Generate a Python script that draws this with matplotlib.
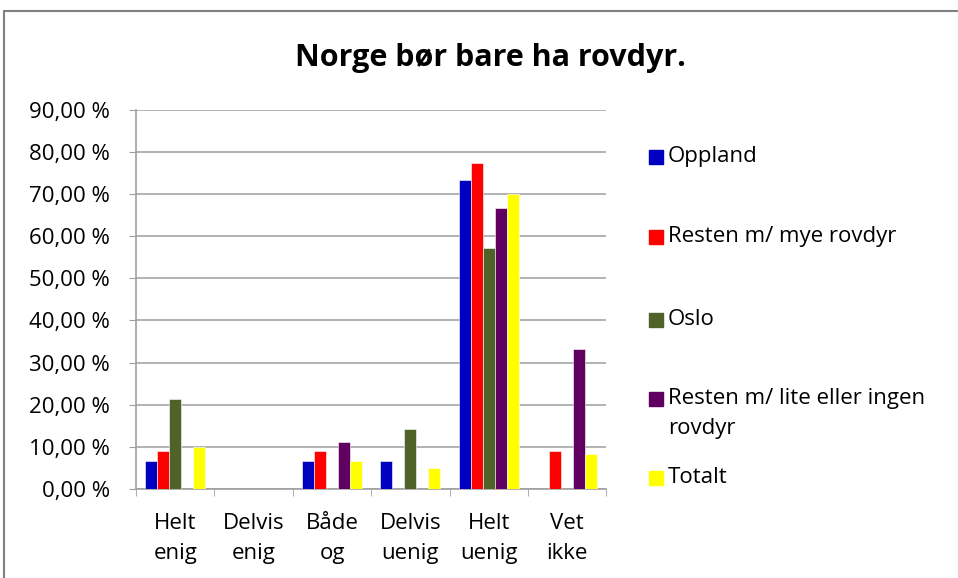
import matplotlib
matplotlib.use("Agg")
import matplotlib.pyplot as plt
import numpy as np
from matplotlib.patches import Rectangle

plt.rcParams['font.family'] = ['Open Sans', 'DejaVu Sans']

categories = ["Helt\nenig", "Delvis\nenig", "Både\nog", "Delvis\nuenig", "Helt\nuenig", "Vet\nikke"]
series_names = ["Oppland", "Resten m/ mye rovdyr", "Oslo",
                "Resten m/ lite eller ingen\nrovdyr", "Totalt"]
oppland = [6.67, 0, 6.67, 6.67, 73.33, 0]
resten_mye = [9.09, 0, 9.09, 0, 77.27, 9.09]
oslo = [21.43, 0, 0, 14.29, 57.14, 0]
resten_lite = [0, 0, 11.11, 0, 66.67, 33.33]
totalt = [10.0, 0, 6.67, 5.0, 70.0, 8.33]
colors = ["#0000C0", "#FF0000", "#4F6228", "#600060", "#FFFF00"]
yticks = np.arange(0, 91, 10)

series = [oppland, resten_mye, oslo, resten_lite, totalt]

fig = plt.figure(figsize=(9.58, 5.78), dpi=100)
ax = fig.add_axes([0.142, 0.154, 0.491, 0.656])

x = np.arange(len(categories))
w = 0.153
for i, vals in enumerate(series):
    ax.bar(x + (i - 2) * w, vals, width=w, color=colors[i],
           edgecolor="white", linewidth=0.4, zorder=3)

ax.set_xlim(-0.5, len(categories) - 0.5)
ax.set_ylim(0, 90)
ax.set_yticks(yticks)
ax.set_yticklabels([f"{v:.2f}".replace(".", ",") + " %" for v in yticks])
ax.set_xticks(x)
ax.set_xticklabels(categories, linespacing=1.6)
ax.set_xticks(np.arange(-0.5, len(categories)), minor=True)
ax.tick_params(axis="x", which="major", length=0, pad=17, labelsize=16)
ax.tick_params(axis="x", which="minor", length=5, color="#a0a0a0")
ax.tick_params(axis="y", length=5, color="#a0a0a0", labelsize=16, pad=14)
ax.grid(axis="y", color="#a6a6a6", linewidth=1.2, zorder=0)
for s in ["top", "right"]:
    ax.spines[s].set_visible(False)
for s in ["left", "bottom"]:
    ax.spines[s].set_color("#a0a0a0")
    ax.spines[s].set_linewidth(1.2)

fig.text(0.512, 0.899, "Norge bør bare ha rovdyr.", ha="center", va="center",
         fontsize=22, fontweight="bold")

# legend, drawn by hand so the marker sits on the first text line
leg_y = [157, 237, 320, 399, 478]
for name, c, yp in zip(series_names, colors, leg_y):
    yf = 1 - yp / 578
    fig.patches.append(Rectangle((649 / 958, yf - 7 / 578), 14 / 958, 14 / 578,
                                 transform=fig.transFigure, color=c))
    fig.text(668 / 958, yf + 11 / 578, name, ha="left", va="top", fontsize=16,
             linespacing=1.55)

# outer chart border
fig.patches.append(Rectangle((4 / 958, -0.05), 1.1, 1 - 11 / 578 + 0.05,
                             transform=fig.transFigure, fill=False,
                             edgecolor="#808080", linewidth=1.5))

fig.savefig("out.png", dpi=100)
